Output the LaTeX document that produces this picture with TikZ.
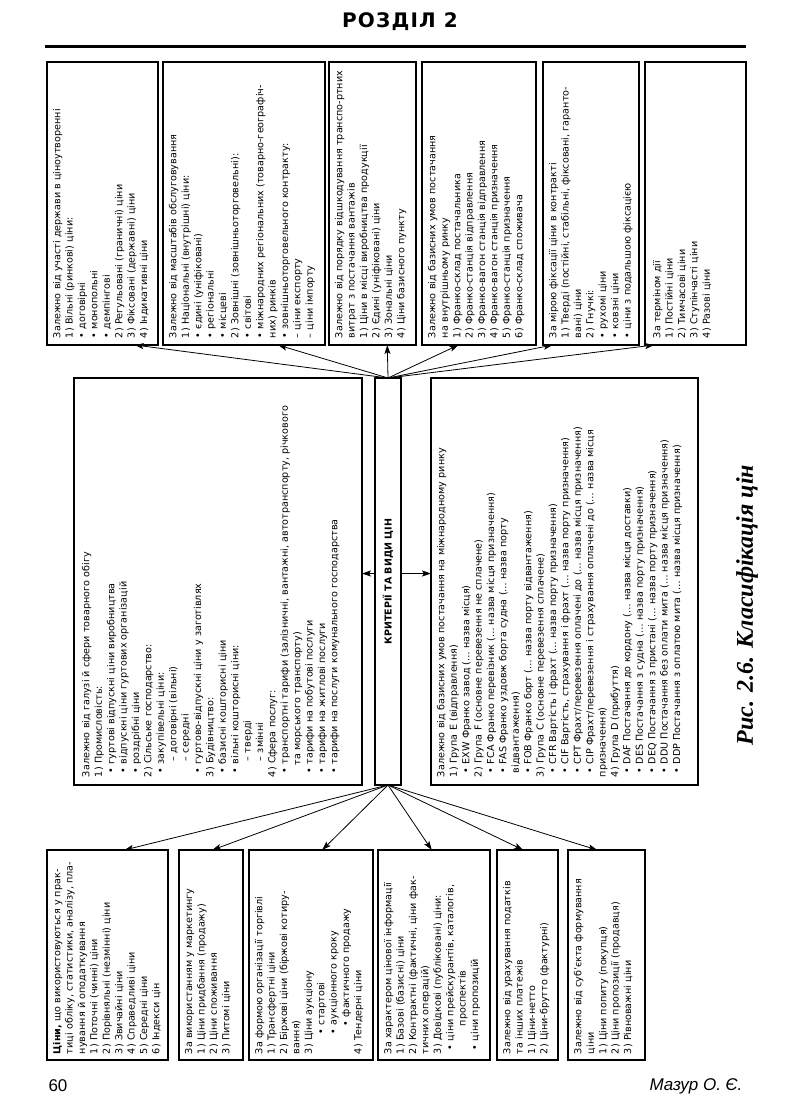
\documentclass[tikz,border=0pt]{standalone}
\usepackage{fontspec}
\usetikzlibrary{arrows.meta,calc}
\newfontfamily\djf{DejaVu Sans}
\newfontfamily\hdrf[LetterSpace=6]{DejaVu Sans}
\newfontfamily\capf{Liberation Serif}
\newfontfamily\footf{Liberation Sans}
\newcommand\tf{\djf\fontsize{9.6}{12.4}\selectfont}
\newcommand\jl[1]{\makebox[\hsize][s]{#1}}
\newcommand\myind[1]{\hspace*{#1pt}}
\newcommand\jli[2]{\hspace*{#1pt}\makebox[\dimexpr\hsize-#1pt\relax][s]{#2}}
\begin{document}
\begin{tikzpicture}[x=1pt,y=-1pt,
  box/.style={draw, line width=1.3pt, inner sep=0pt, outer sep=0pt, anchor=north west},
  txt/.style={rotate=90, anchor=north west, inner sep=0pt, outer sep=0pt, align=left, font=\tf},
  arr/.style={-{Stealth[length=9pt,width=6pt,inset=2pt]}, line width=0.8pt}]
\path[use as bounding box] (0,0) rectangle (804,1112);

% header
\node[font=\hdrf\bfseries\fontsize{20}{22}\selectfont] (hdr) at (400,22) {РОЗДІЛ 2};
\draw[line width=3pt] (45,46) -- (746,46);

% top row boxes
\node[box, minimum width=111pt, minimum height=283pt] (b1) at (47,62) {};
\node[box, minimum width=162pt, minimum height=283pt] (b2) at (163,62) {};
\node[box, minimum width=87pt, minimum height=283pt] (b3) at (329,62) {};
\node[box, minimum width=114pt, minimum height=283pt] (b4) at (422,62) {};
\node[box, minimum width=96pt, minimum height=283pt] (b5) at (543,62) {};
\node[box, minimum width=101pt, minimum height=283pt] (b6) at (645,62) {};

% middle
\node[box, minimum width=288pt, minimum height=407pt] (ml) at (74,378) {};
\node[box, minimum width=26pt, minimum height=407pt] (c) at (375,378) {};
\node[box, minimum width=267pt, minimum height=407pt] (mr) at (431,378) {};
\node[rotate=90, font=\djf\bfseries\fontsize{9.5}{11}\selectfont] (ct) at (c.center) {КРИТЕРІЇ ТА ВИДИ ЦІН};

% bottom row boxes
\node[box, minimum width=121pt, minimum height=210pt] (bA) at (47,850) {};
\node[box, minimum width=64pt, minimum height=210pt] (bB) at (179,850) {};
\node[box, minimum width=124pt, minimum height=210pt] (bC) at (249,850) {};
\node[box, minimum width=112pt, minimum height=210pt] (bD) at (378,850) {};
\node[box, minimum width=61pt, minimum height=210pt] (bE) at (497,850) {};
\node[box, minimum width=77pt, minimum height=210pt] (bF) at (568,850) {};

% top texts
\node[txt, text width=271pt] (t1) at ($(b1.south west)+(6,-7)$) {Залежно від участі держави в ціноутворенні\\
1) Вільні (ринкові) ціни:\\
• договірні\\
• монопольні\\
• демпінгові\\
2) Регульовані (граничні) ціни\\
3) Фіксовані (державні) ціни\\
4) Індикативні ціни};

\node[txt, text width=271pt] (t2) at ($(b2.south west)+(6,-7)$) {Залежно від масштабів обслуговування\\
1) Національні (внутрішні) ціни:\\
• єдині (уніфіковані)\\
• регіональні\\
• місцеві\\
2) Зовнішні (зовнішньоторговельні):\\
• світові\\
\jl{• міжнародних регіональних (товарно-географіч-}\\
них) ринків\\
• зовнішньоторговельного контракту:\\
– ціни експорту\\
– ціни імпорту};

\node[txt, text width=271pt] (t3) at ($(b3.south west)+(6,-7)$) {\jl{Залежно від порядку відшкодування транспо-ртних}\\
витрат з постачання вантажів\\
1) Ціни в місці виробництва продукції\\
2) Єдині (уніфіковані) ціни\\
3) Зональні ціни\\
4) Ціни базисного пункту};

\node[txt, text width=271pt] (t4) at ($(b4.south west)+(6,-7)$) {Залежно від базисних умов постачання\\
на внутрішньому ринку\\
1) Франко-склад постачальника\\
2) Франко-станція відправлення\\
3) Франко-вагон станція відправлення\\
4) Франко-вагон станція призначення\\
5) Франко-станція призначення\\
6) Франко-склад споживача};

\node[txt, text width=271pt] (t5) at ($(b5.south west)+(6,-7)$) {За мірою фіксації ціни в контракті\\
\jl{1) Тверді (постійні, стабільні, фіксовані, гаранто-}\\
вані) ціни\\
2) Гнучкі:\\
• рухомі ціни\\
• ковзні ціни\\
• ціни з подальшою фіксацією};

\node[txt, text width=271pt] (t6) at ($(b6.south west)+(8,-7)$) {За терміном дії\\
1) Постійні ціни\\
2) Тимчасові ціни\\
3) Ступінчасті ціни\\
4) Разові ціни};

% middle texts
\node[txt, text width=391pt] (tml) at ($(ml.south west)+(8,-8)$) {Залежно від галузі й сфери товарного обігу\\
1) Промисловість:\\
\myind{4}• гуртові відпускні ціни виробництва\\
\myind{4}• відпускні ціни гуртових організацій\\
\myind{4}• роздрібні ціни\\
2) Сільське господарство:\\
\myind{4}• закупівельні ціни:\\
\myind{16}– договірні (вільні)\\
\myind{16}– середні\\
\myind{4}• гуртово-відпускні ціни у заготівлях\\
3) Будівництво:\\
\myind{4}• базисні кошторисні ціни\\
\myind{4}• вільні кошторисні ціни:\\
\myind{16}– тверді\\
\myind{16}– змінні\\
4) Сфера послуг:\\
\jli{4}{• транспортні тарифи (залізничні, вантажні, автотранспорту, річкового}\\
\myind{12}та морського транспорту)\\
\myind{4}• тарифи на побутові послуги\\
\myind{4}• тарифи на житлові послуги\\
\myind{4}• тарифи на послуги комунального господарства};

\node[txt, text width=391pt] (tmr) at ($(mr.south west)+(6,-8)$) {Залежно від базисних умов постачання на міжнародному ринку\\
1) Група E (відправлення)\\
\myind{4}• EXW Франко завод (… назва місця)\\
2) Група F (основне перевезення не сплачене)\\
\myind{4}• FCA Франко перевізник (… назва місця призначення)\\
\myind{4}• FAS Франко уздовж борта судна (… назва порту\\
\myind{4}відвантаження)\\
\myind{4}• FOB Франко борт (… назва порту відвантаження)\\
3) Група C (основне перевезення сплачене)\\
\myind{4}• CFR Вартість і фрахт (… назва порту призначення)\\
\myind{4}• CIF Вартість, страхування і фрахт (… назва порту призначення)\\
\myind{4}• CPT Фрахт/перевезення оплачені до (… назва місця призначення)\\
\myind{4}• CIP Фрахт/перевезення і страхування оплачені до (… назва місця\\
призначення)\\
4) Група D (прибуття)\\
\myind{4}• DAF Постачання до кордону (… назва місця доставки)\\
\myind{4}• DES Постачання з судна (… назва порту призначення)\\
\myind{4}• DEQ Постачання з пристані (… назва порту призначення)\\
\myind{4}• DDU Постачання без оплати мита (… назва місця призначення)\\
\myind{4}• DDP Постачання з оплатою мита (… назва місця призначення)};

% bottom texts
\node[txt, text width=198pt] (tA) at ($(bA.south west)+(6,-6)$) {\jl{\textbf{Ціни,} що використовуються у прак-}\\
\jl{тиці обліку, статистики, аналізу, пла-}\\
нування й оподаткування\\
1) Поточні (чинні) ціни\\
2) Порівняльні (незмінні) ціни\\
3) Звичайні ціни\\
4) Справедливі ціни\\
5) Середні ціни\\
6) Індекси цін};

\node[txt, text width=198pt] (tB) at ($(bB.south west)+(6,-6)$) {За використанням у маркетингу\\
1) Ціни придбання (продажу)\\
2) Ціни споживання\\
3) Питомі ціни};

\node[txt, text width=198pt] (tC) at ($(bC.south west)+(6,-6)$) {За формою організації торгівлі\\
1) Трансфертні ціни\\
\jl{2) Біржові ціни (біржові котиру-}\\
вання)\\
3) Ціни аукціону\\
\myind{20}• стартові\\
\myind{20}• аукціонного кроку\\
\myind{28}• фактичного продажу\\
4) Тендерні ціни};

\node[txt, text width=198pt] (tD) at ($(bD.south west)+(6,-6)$) {\jl{За характером цінової інформації}\\
1) Базові (базисні) ціни\\
\jl{2) Контрактні (фактичні, ціни фак-}\\
тичних операцій)\\
3) Довідкові (публіковані) ціни:\\
\myind{4}• ціни прейскурантів, каталогів,\\
\myind{28}проспектів\\
\myind{4}• ціни пропозицій};

\node[txt, text width=198pt] (tE) at ($(bE.south west)+(6,-6)$) {Залежно від урахування податків\\
та інших платежів\\
1) Ціни-нетто\\
2) Ціни-брутто (фактурні)};

\node[txt, text width=198pt] (tF) at ($(bF.south west)+(6,-6)$) {\jl{Залежно від суб’єкта формування}\\
ціни\\
1) Ціни попиту (покупця)\\
2) Ціни пропозиції (продавця)\\
3) Рівноважні ціни};

% arrows up
\draw[arr] (c.north) -- ($(b1.south west)!0.79!(b1.south east)$);
\draw[arr] (c.north) -- ($(b2.south west)!0.71!(b2.south east)$);
\draw[arr] (c.north) -- ($(b3.south west)!0.67!(b3.south east)$);
\draw[arr] (c.north) -- ($(b4.south west)!0.32!(b4.south east)$);
\draw[arr] (c.north) -- ($(b5.south west)!0.10!(b5.south east)$);
\draw[arr] (c.north) -- ($(b6.south west)!0.09!(b6.south east)$);
% arrows down
\draw[arr] (c.south) -- ($(bA.north west)!0.64!(bA.north east)$);
\draw[arr] (c.south) -- ($(bB.north west)!0.52!(bB.north east)$);
\draw[arr] (c.south) -- ($(bC.north west)!0.59!(bC.north east)$);
\draw[arr] (c.south) -- ($(bD.north west)!0.48!(bD.north east)$);
\draw[arr] (c.south) -- ($(bE.north west)!0.43!(bE.north east)$);
\draw[arr] (c.south) -- ($(bF.north west)!0.38!(bF.north east)$);
% side arrows
\draw[arr] ([yshift=8pt]c.west) -- ([yshift=8pt]ml.east);
\draw[arr] ([yshift=8pt]c.east) -- ([yshift=8pt]mr.west);

% caption and footer
\node[rotate=90, font=\capf\bfseries\itshape\fontsize{24}{28}\selectfont] (cap) at (747,605) {Рис. 2.6. Класифікація цін};
\node[anchor=west, font=\footf\fontsize{17}{19}\selectfont] (pg) at (45,1086) {60};
\node[anchor=east, font=\footf\itshape\fontsize{17}{19}\selectfont] (au) at (746,1086) {Мазур О. Є.};
\end{tikzpicture}
\end{document}
